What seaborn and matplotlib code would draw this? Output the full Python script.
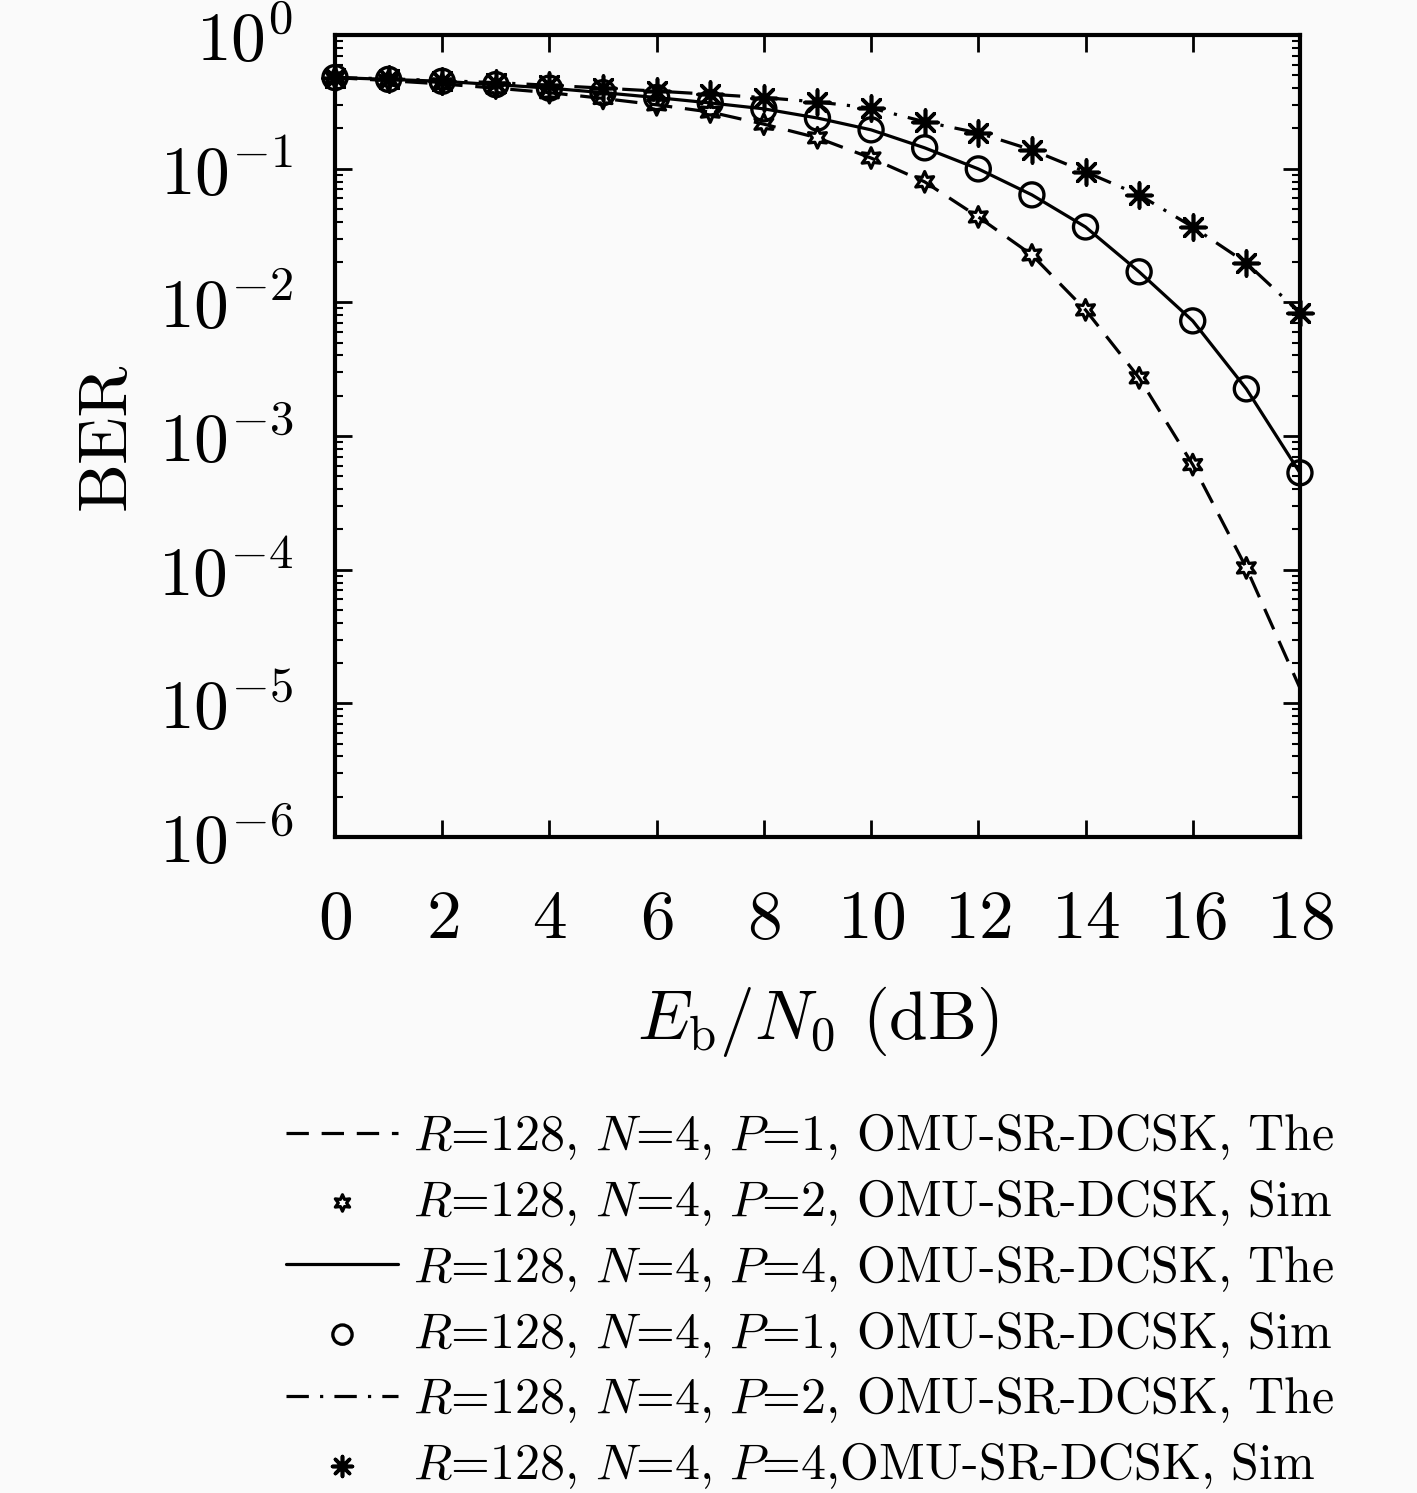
import numpy as np
import matplotlib
matplotlib.use("Agg")
import matplotlib.pyplot as plt
import seaborn as sns
from matplotlib.ticker import LogLocator, NullFormatter, MultipleLocator

# Eb/N0 axis (dB)
ebn0 = list(range(0, 19))
ebn0_hex = list(range(0, 18))

# theory curves
the_p1 = [0.48, 0.455, 0.43, 0.40, 0.37, 0.335, 0.30, 0.265, 0.215, 0.170, 0.120,
          0.0796, 0.0435, 0.0226, 0.00877, 0.00272, 0.00061, 1.03e-4, 1.3e-5]
the_p4 = [0.48, 0.465, 0.45, 0.425, 0.40, 0.37, 0.34, 0.31, 0.28, 0.239, 0.195,
          0.143, 0.0995, 0.0636, 0.0366, 0.0169, 0.00726, 0.00225, 5.3e-4]
the_p2 = [0.48, 0.47, 0.455, 0.44, 0.42, 0.40, 0.38, 0.36, 0.34, 0.315, 0.284,
          0.224, 0.185, 0.138, 0.0945, 0.0636, 0.0366, 0.0197, 0.00833]

# simulation points
sim_hex = [0.48, 0.455, 0.43, 0.40, 0.37, 0.335, 0.30, 0.265, 0.215, 0.170, 0.120,
           0.0796, 0.0435, 0.0226, 0.00877, 0.00272, 0.00061, 1.03e-4]
sim_circ = [0.48, 0.465, 0.45, 0.425, 0.40, 0.37, 0.34, 0.31, 0.28, 0.239, 0.195,
            0.143, 0.0995, 0.0636, 0.0366, 0.0169, 0.00726, 0.00225, 5.3e-4]
sim_star = [0.48, 0.47, 0.455, 0.44, 0.42, 0.40, 0.38, 0.36, 0.34, 0.315, 0.284,
            0.224, 0.185, 0.138, 0.0945, 0.0636, 0.0366, 0.0197, 0.00833]

labels = [
    r"$R$=128, $N$=4, $P$=1, OMU-SR-DCSK, The",
    r"$R$=128, $N$=4, $P$=2, OMU-SR-DCSK, Sim",
    r"$R$=128, $N$=4, $P$=4, OMU-SR-DCSK, The",
    r"$R$=128, $N$=4, $P$=1, OMU-SR-DCSK, Sim",
    r"$R$=128, $N$=4, $P$=2, OMU-SR-DCSK, The",
    r"$R$=128, $N$=4, $P$=4,OMU-SR-DCSK, Sim",
]

sns.set_style("ticks")
plt.rcParams["font.family"] = ["cmr10"]
plt.rcParams["mathtext.fontset"] = "cm"
plt.rcParams["axes.formatter.use_mathtext"] = True
plt.rcParams["text.color"] = "black"
plt.rcParams["axes.labelcolor"] = "black"
plt.rcParams["xtick.color"] = "black"
plt.rcParams["ytick.color"] = "black"

fig = plt.figure(figsize=(14.17, 14.93), dpi=100, facecolor="#fafafa")
ax = fig.add_axes([0.2364, 0.4394, 0.681, 0.5372])
ax.set_facecolor("#fafafa")

lw = 2.3
sns.lineplot(x=ebn0, y=the_p1, ax=ax, color="black", lw=lw,
             linestyle=(0, (7, 4)), label=labels[0])
sns.scatterplot(x=ebn0_hex, y=sim_hex, ax=ax, marker=(6, 1, 0), s=220,
                facecolor="none", edgecolor="black", linewidth=2.3, label=labels[1],
                zorder=3, clip_on=False)
sns.lineplot(x=ebn0, y=the_p4, ax=ax, color="black", lw=lw,
             linestyle="-", label=labels[2])
sns.scatterplot(x=ebn0, y=sim_circ, ax=ax, marker="o", s=300,
                facecolor="none", edgecolor="black", linewidth=2.4, label=labels[3],
                zorder=3, clip_on=False)
sns.lineplot(x=ebn0, y=the_p2, ax=ax, color="black", lw=lw,
             linestyle=(0, (7, 3.5, 1, 3.5)), label=labels[4])
sns.scatterplot(x=ebn0, y=sim_star, ax=ax, marker=(8, 2, 0), s=320,
                color="black", linewidth=2.6, label=labels[5], zorder=3, clip_on=False)

ax.set_yscale("log")
ax.set_xlim(0, 18)
ax.set_ylim(1e-6, 1)
ax.xaxis.set_major_locator(MultipleLocator(2))
ax.yaxis.set_major_locator(LogLocator(base=10, numticks=10))
ax.yaxis.set_minor_locator(LogLocator(base=10, subs=np.arange(2, 10), numticks=20))
ax.yaxis.set_minor_formatter(NullFormatter())

ax.tick_params(axis="both", which="both", direction="in", top=True, right=True,
               labelsize=50, width=2)
ax.tick_params(axis="x", which="major", length=12, pad=38)
ax.tick_params(axis="y", which="major", length=12, pad=30)
ax.tick_params(axis="y", which="minor", length=6, width=1.5)
for sp in ax.spines.values():
    sp.set_linewidth(3)
    sp.set_color("black")

ax.set_xlabel(r"$E_\mathrm{b}/N_0$ (dB)", fontsize=50, labelpad=24)
ax.set_ylabel("BER", fontsize=50, labelpad=15)

handles, labs = ax.get_legend_handles_labels()
order = [labs.index(l) for l in labels]
ax.get_legend().remove()
fig.legend([handles[i] for i in order], [labs[i] for i in order],
           loc="upper right", bbox_to_anchor=(0.956, 0.269), frameon=False,
           fontsize=36, handlelength=2.24, handletextpad=0.3, labelspacing=0.3,
           markerscale=0.8, borderaxespad=0)

fig.savefig("out.png", dpi=100, facecolor=fig.get_facecolor())
